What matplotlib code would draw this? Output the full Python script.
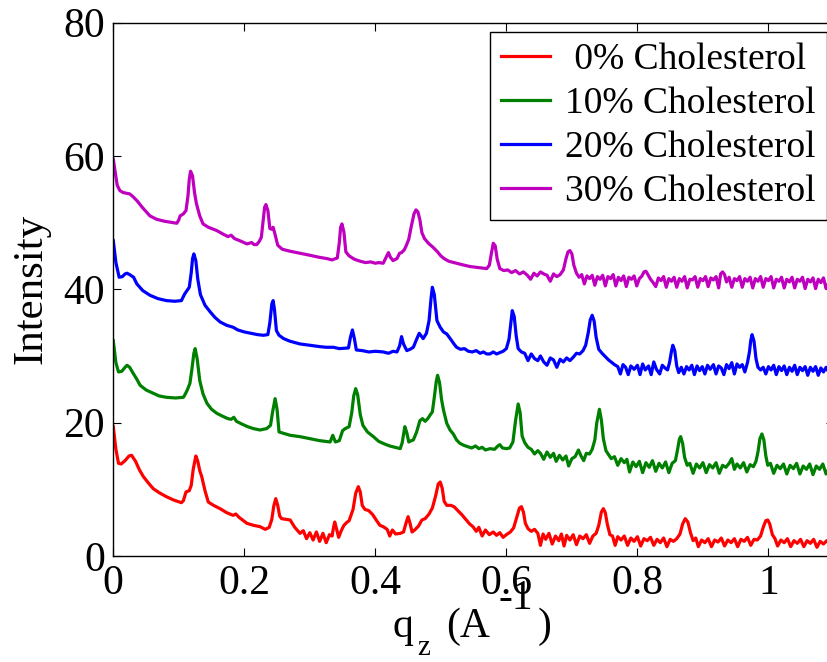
import matplotlib
matplotlib.use("Agg")
import matplotlib.pyplot as plt

plt.rcParams['font.family'] = ['Liberation Serif', 'DejaVu Serif']
plt.rcParams['mathtext.fontset'] = 'custom'
plt.rcParams['mathtext.rm'] = 'Liberation Serif'
plt.rcParams['mathtext.it'] = 'Liberation Serif:italic'

labels = [' 0% Cholesterol', '10% Cholesterol', '20% Cholesterol', '30% Cholesterol']
colors = ['#ff0000', '#008000', '#0000ff', '#bf00bf']

q_0 = [0.000, 0.004, 0.008, 0.012, 0.018, 0.024, 0.028, 0.034, 0.040, 0.046, 0.054, 0.061, 0.070, 0.081, 0.092, 0.104,
       0.107, 0.111, 0.116, 0.119, 0.122, 0.126, 0.129, 0.132, 0.135, 0.140, 0.145, 0.153, 0.163, 0.173, 0.183, 0.187,
       0.192, 0.204, 0.214, 0.224, 0.232, 0.238, 0.242, 0.245, 0.248, 0.251, 0.254, 0.257, 0.263, 0.270, 0.277, 0.285,
       0.290, 0.295, 0.300, 0.305, 0.310, 0.315, 0.320, 0.325, 0.330, 0.334, 0.336, 0.338, 0.341, 0.344, 0.348, 0.352,
       0.356, 0.360, 0.366, 0.370, 0.374, 0.377, 0.380, 0.384, 0.390, 0.396, 0.402, 0.407, 0.412, 0.418, 0.422, 0.426,
       0.431, 0.438, 0.443, 0.447, 0.450, 0.453, 0.456, 0.460, 0.466, 0.471, 0.476, 0.482, 0.487, 0.492, 0.496, 0.499,
       0.502, 0.505, 0.509, 0.515, 0.520, 0.526, 0.532, 0.538, 0.544, 0.549, 0.554, 0.558, 0.563, 0.568, 0.574, 0.580,
       0.585, 0.590, 0.595, 0.600, 0.606, 0.611, 0.616, 0.620, 0.623, 0.626, 0.629, 0.633, 0.638, 0.643, 0.648, 0.652,
       0.656, 0.660, 0.665, 0.670, 0.675, 0.680, 0.684, 0.688, 0.692, 0.697, 0.702, 0.707, 0.712, 0.717, 0.722, 0.727,
       0.732, 0.737, 0.741, 0.745, 0.748, 0.751, 0.754, 0.758, 0.762, 0.766, 0.770, 0.775, 0.780, 0.785, 0.790, 0.795,
       0.800, 0.805, 0.810, 0.815, 0.820, 0.825, 0.830, 0.835, 0.840, 0.845, 0.850, 0.855, 0.860, 0.865, 0.869, 0.873,
       0.877, 0.881, 0.885, 0.889, 0.893, 0.898, 0.903, 0.908, 0.913, 0.918, 0.923, 0.928, 0.933, 0.938, 0.943, 0.948,
       0.953, 0.958, 0.963, 0.968, 0.973, 0.978, 0.983, 0.988, 0.992, 0.996, 0.999, 1.002, 1.006, 1.010, 1.014, 1.019,
       1.024, 1.029, 1.034, 1.039, 1.044, 1.049, 1.054, 1.059, 1.064, 1.069, 1.074, 1.079, 1.084, 1.089, 1.095, 1.100]
i_0 = [19.4, 16.0, 13.9, 13.8, 14.3, 15.0, 15.1, 14.2, 12.9, 11.9, 10.9, 10.1, 9.5, 8.9, 8.4, 8.0,
       8.3, 9.6, 9.8, 10.6, 13.0, 15.0, 14.2, 12.8, 11.9, 9.8, 8.1, 7.6, 7.1, 6.5, 6.1, 6.3,
       5.8, 4.9, 4.6, 4.4, 4.0, 4.3, 5.5, 7.5, 8.6, 7.6, 6.0, 5.6, 5.5, 5.4, 4.3, 3.4,
       3.8, 2.6, 3.5, 2.4, 3.6, 2.2, 3.4, 2.0, 3.2, 3.0, 4.2, 5.1, 4.0, 2.8, 3.8, 4.6,
       5.0, 5.3, 7.0, 9.4, 10.4, 9.6, 7.6, 7.0, 6.8, 6.2, 5.3, 4.6, 4.4, 4.0, 3.0, 3.9,
       3.3, 3.4, 3.6, 5.0, 5.9, 4.9, 3.6, 3.9, 4.5, 5.4, 5.6, 6.3, 7.2, 9.0, 10.8, 11.1,
       10.2, 8.2, 7.6, 7.6, 7.4, 6.8, 6.2, 5.5, 4.8, 4.4, 3.7, 4.3, 3.0, 3.9, 3.2, 3.6,
       3.1, 3.5, 2.8, 3.2, 3.6, 4.2, 5.9, 7.2, 7.4, 6.6, 4.9, 4.1, 3.7, 4.0, 3.4, 1.6,
       3.3, 2.5, 3.4, 1.8, 3.0, 2.3, 3.3, 1.5, 3.1, 2.4, 3.2, 1.7, 3.0, 2.6, 3.2, 1.9,
       3.0, 3.4, 4.6, 6.6, 7.1, 6.5, 4.8, 3.2, 3.0, 1.6, 2.9, 2.4, 3.0, 1.6, 2.7, 2.2,
       2.9, 1.5, 2.6, 2.3, 2.8, 1.6, 2.5, 2.0, 2.7, 1.4, 2.5, 2.2, 2.6, 3.3, 4.8, 5.6,
       5.1, 3.5, 2.3, 2.7, 1.4, 2.4, 2.0, 2.6, 1.4, 2.4, 2.1, 2.7, 1.5, 2.4, 2.0, 2.6,
       1.4, 2.5, 2.2, 2.8, 1.6, 2.5, 2.4, 3.0, 4.3, 5.3, 5.4, 4.8, 3.2, 2.6, 1.5, 2.4,
       2.0, 2.6, 1.4, 2.3, 1.9, 2.5, 1.4, 2.3, 1.9, 2.5, 1.3, 2.2, 1.8, 2.3, 1.6, 2.1]

q_10 = [0.000, 0.004, 0.008, 0.013, 0.018, 0.021, 0.025, 0.031, 0.036, 0.041, 0.050, 0.061, 0.070, 0.081, 0.095, 0.107,
        0.110, 0.113, 0.117, 0.120, 0.123, 0.125, 0.128, 0.132, 0.137, 0.143, 0.150, 0.158, 0.166, 0.175, 0.180, 0.184,
        0.188, 0.196, 0.205, 0.214, 0.224, 0.234, 0.240, 0.243, 0.247, 0.250, 0.253, 0.260, 0.270, 0.285, 0.300, 0.315,
        0.331, 0.335, 0.339, 0.345, 0.350, 0.354, 0.360, 0.364, 0.367, 0.370, 0.373, 0.377, 0.381, 0.388, 0.397, 0.405,
        0.414, 0.422, 0.430, 0.438, 0.441, 0.445, 0.448, 0.451, 0.455, 0.458, 0.463, 0.468, 0.472, 0.476, 0.480, 0.484,
        0.487, 0.490, 0.493, 0.495, 0.498, 0.501, 0.504, 0.509, 0.514, 0.519, 0.524, 0.529, 0.535, 0.541, 0.547, 0.553,
        0.558, 0.563, 0.568, 0.575, 0.582, 0.587, 0.590, 0.594, 0.600, 0.605, 0.610, 0.614, 0.618, 0.621, 0.624, 0.628,
        0.633, 0.638, 0.643, 0.648, 0.652, 0.657, 0.662, 0.667, 0.672, 0.676, 0.681, 0.686, 0.691, 0.695, 0.700, 0.705,
        0.710, 0.714, 0.718, 0.722, 0.727, 0.731, 0.735, 0.738, 0.742, 0.745, 0.748, 0.752, 0.756, 0.760, 0.765, 0.770,
        0.775, 0.780, 0.784, 0.788, 0.793, 0.798, 0.803, 0.808, 0.813, 0.818, 0.823, 0.828, 0.833, 0.838, 0.843, 0.848,
        0.853, 0.858, 0.861, 0.864, 0.866, 0.869, 0.872, 0.876, 0.880, 0.885, 0.890, 0.895, 0.900, 0.905, 0.910, 0.915,
        0.920, 0.925, 0.930, 0.935, 0.940, 0.944, 0.948, 0.952, 0.957, 0.962, 0.967, 0.972, 0.977, 0.981, 0.984, 0.987,
        0.990, 0.993, 0.996, 0.999, 1.003, 1.008, 1.013, 1.018, 1.023, 1.028, 1.033, 1.038, 1.043, 1.048, 1.053, 1.058,
        1.063, 1.068, 1.073, 1.078, 1.083, 1.088, 1.094, 1.100]
i_10 = [32.3, 29.0, 27.6, 27.7, 28.3, 28.6, 28.3, 27.3, 26.5, 25.6, 24.9, 24.4, 24.0, 23.8, 23.7, 23.8,
        24.3, 24.9, 25.9, 28.0, 30.4, 31.1, 29.6, 26.3, 24.3, 22.9, 22.0, 21.4, 21.0, 20.6, 20.5, 20.8,
        20.2, 19.8, 19.4, 19.1, 18.9, 19.1, 19.6, 21.5, 23.6, 22.0, 18.6, 18.4, 18.1, 17.9, 17.6, 17.3,
        17.1, 18.1, 17.1, 17.3, 18.8, 19.1, 19.4, 21.5, 24.0, 25.1, 24.2, 21.2, 19.6, 18.6, 17.9, 17.2,
        16.8, 16.5, 16.3, 16.1, 17.0, 19.4, 18.5, 17.1, 17.3, 17.4, 18.6, 20.3, 20.6, 20.2, 20.6, 21.2,
        21.6, 23.8, 26.2, 27.1, 26.0, 23.5, 21.9, 19.9, 18.9, 18.3, 17.4, 16.9, 16.6, 16.4, 16.2, 16.5,
        16.1, 16.3, 15.9, 16.1, 16.0, 16.5, 16.7, 16.2, 16.1, 16.2, 17.1, 20.3, 22.8, 21.5, 18.0, 17.0,
        16.3, 16.0, 15.3, 15.8, 15.4, 14.5, 15.6, 14.8, 15.4, 14.2, 15.1, 14.4, 15.0, 13.5, 14.6, 14.9,
        15.9, 15.0, 14.3, 15.4, 15.3, 16.0, 17.4, 20.0, 22.0, 20.4, 17.6, 15.8, 15.2, 14.6, 14.9, 13.6,
        14.6, 14.0, 14.5, 12.6, 14.1, 13.4, 14.2, 12.5, 14.0, 13.3, 14.3, 12.7, 13.9, 13.2, 14.1, 12.5,
        13.9, 14.3, 15.8, 17.5, 17.9, 16.9, 14.8, 13.6, 13.9, 12.4, 13.8, 13.2, 14.0, 12.5, 13.7, 13.2,
        14.0, 12.4, 13.6, 13.3, 13.9, 14.6, 13.0, 13.8, 13.2, 14.0, 12.6, 13.7, 13.4, 14.2, 15.6, 17.6,
        18.3, 17.4, 15.0, 13.6, 13.9, 12.4, 13.6, 13.1, 13.8, 12.3, 13.6, 13.1, 13.9, 12.3, 13.5, 13.0,
        13.8, 12.2, 13.5, 13.0, 13.8, 12.3, 13.4, 13.1]

q_20 = [0.000, 0.004, 0.009, 0.014, 0.018, 0.021, 0.025, 0.031, 0.036, 0.045, 0.056, 0.068, 0.081, 0.094, 0.104, 0.109,
        0.116, 0.119, 0.121, 0.123, 0.126, 0.129, 0.133, 0.140, 0.148, 0.155, 0.163, 0.173, 0.183, 0.190, 0.200, 0.210,
        0.220, 0.229, 0.236, 0.239, 0.242, 0.244, 0.246, 0.249, 0.253, 0.260, 0.270, 0.285, 0.300, 0.315, 0.325, 0.336,
        0.345, 0.359, 0.362, 0.365, 0.368, 0.371, 0.380, 0.390, 0.400, 0.412, 0.420, 0.427, 0.433, 0.437, 0.440, 0.443,
        0.448, 0.453, 0.458, 0.463, 0.467, 0.470, 0.473, 0.478, 0.482, 0.485, 0.487, 0.490, 0.494, 0.499, 0.504, 0.509,
        0.515, 0.520, 0.524, 0.530, 0.536, 0.542, 0.548, 0.554, 0.560, 0.565, 0.570, 0.575, 0.580, 0.585, 0.590, 0.595,
        0.600, 0.604, 0.607, 0.609, 0.612, 0.615, 0.618, 0.623, 0.628, 0.633, 0.638, 0.643, 0.648, 0.652, 0.657, 0.662,
        0.667, 0.672, 0.677, 0.682, 0.687, 0.692, 0.697, 0.702, 0.707, 0.712, 0.717, 0.721, 0.725, 0.728, 0.731, 0.734,
        0.737, 0.741, 0.746, 0.751, 0.756, 0.761, 0.765, 0.770, 0.774, 0.778, 0.782, 0.786, 0.790, 0.795, 0.800, 0.804,
        0.808, 0.812, 0.817, 0.821, 0.825, 0.829, 0.834, 0.838, 0.842, 0.846, 0.849, 0.852, 0.854, 0.857, 0.860, 0.863,
        0.867, 0.871, 0.875, 0.879, 0.883, 0.887, 0.891, 0.895, 0.899, 0.903, 0.907, 0.911, 0.916, 0.920, 0.924, 0.928,
        0.932, 0.936, 0.940, 0.944, 0.948, 0.952, 0.956, 0.960, 0.964, 0.968, 0.971, 0.973, 0.975, 0.978, 0.981, 0.984,
        0.988, 0.992, 0.996, 1.000, 1.004, 1.008, 1.012, 1.016, 1.020, 1.024, 1.028, 1.032, 1.036, 1.040, 1.044, 1.048,
        1.052, 1.056, 1.060, 1.064, 1.068, 1.072, 1.076, 1.080, 1.084, 1.088, 1.094, 1.100]
i_20 = [47.3, 44.0, 41.8, 41.9, 42.3, 42.4, 42.2, 41.8, 40.8, 39.8, 39.1, 38.6, 38.3, 38.2, 38.3, 39.3,
        40.3, 42.5, 44.6, 45.3, 44.3, 41.5, 39.2, 37.6, 36.6, 35.8, 35.1, 34.6, 34.3, 33.9, 33.6, 33.4,
        33.2, 33.1, 33.2, 35.0, 37.8, 38.3, 37.0, 33.8, 33.1, 32.6, 32.2, 31.8, 31.6, 31.4, 31.3, 31.3,
        31.1, 31.2, 32.8, 33.9, 32.6, 30.9, 30.8, 30.6, 30.7, 30.6, 30.4, 30.7, 30.6, 31.5, 32.9, 31.8,
        30.8, 31.0, 31.3, 32.5, 33.4, 33.0, 32.6, 33.4, 35.3, 38.6, 40.3, 39.2, 35.3, 34.3, 33.6, 33.3,
        32.5, 31.8, 31.3, 31.0, 31.1, 30.7, 30.6, 30.8, 30.4, 30.6, 30.3, 30.3, 30.6, 30.3, 30.5, 30.7,
        31.1, 32.5, 35.0, 36.8, 35.9, 33.0, 31.1, 30.6, 30.4, 29.3, 30.3, 29.6, 29.3, 30.0, 29.1, 28.6,
        29.7, 29.4, 28.3, 29.5, 29.1, 29.7, 29.3, 29.8, 30.4, 30.3, 30.8, 31.6, 33.5, 35.4, 36.1, 35.2,
        32.8, 31.0, 30.4, 29.9, 29.4, 29.0, 28.7, 28.4, 27.3, 28.7, 28.3, 27.2, 28.5, 28.0, 28.6, 27.2,
        28.8, 27.9, 28.5, 27.2, 29.1, 28.0, 27.3, 28.6, 28.2, 27.9, 29.0, 30.7, 31.6, 30.8, 28.5, 27.5,
        28.3, 27.3, 28.4, 27.9, 28.6, 27.2, 28.5, 27.8, 28.4, 27.3, 28.6, 28.0, 28.7, 27.3, 28.5, 28.2,
        27.2, 28.7, 28.1, 29.0, 27.3, 28.8, 28.3, 28.7, 27.6, 29.0, 30.6, 32.3, 33.2, 32.2, 29.6, 28.3,
        27.9, 28.3, 27.3, 28.4, 27.9, 28.6, 27.2, 28.4, 27.8, 28.5, 27.2, 28.3, 27.7, 28.6, 27.2, 28.3,
        27.8, 28.4, 27.1, 28.3, 27.7, 28.4, 27.1, 28.2, 27.6, 28.3, 27.2, 27.8]

q_30 = [0.000, 0.003, 0.006, 0.010, 0.015, 0.020, 0.025, 0.030, 0.036, 0.045, 0.056, 0.066, 0.078, 0.090, 0.097, 0.100,
        0.102, 0.107, 0.111, 0.114, 0.116, 0.118, 0.121, 0.124, 0.127, 0.132, 0.137, 0.145, 0.158, 0.167, 0.175, 0.180,
        0.185, 0.195, 0.204, 0.211, 0.215, 0.219, 0.223, 0.226, 0.229, 0.231, 0.233, 0.236, 0.239, 0.242, 0.244, 0.247,
        0.251, 0.258, 0.270, 0.285, 0.300, 0.314, 0.326, 0.334, 0.342, 0.345, 0.347, 0.349, 0.352, 0.355, 0.360, 0.368,
        0.377, 0.385, 0.393, 0.400, 0.405, 0.412, 0.416, 0.420, 0.423, 0.427, 0.433, 0.437, 0.440, 0.444, 0.447, 0.451,
        0.455, 0.459, 0.462, 0.465, 0.468, 0.471, 0.475, 0.481, 0.488, 0.495, 0.500, 0.505, 0.512, 0.520, 0.528, 0.536,
        0.545, 0.553, 0.561, 0.570, 0.574, 0.577, 0.580, 0.583, 0.586, 0.590, 0.596, 0.602, 0.608, 0.614, 0.620, 0.626,
        0.632, 0.637, 0.642, 0.647, 0.652, 0.657, 0.662, 0.667, 0.672, 0.677, 0.682, 0.687, 0.691, 0.694, 0.697, 0.700,
        0.703, 0.707, 0.711, 0.715, 0.719, 0.723, 0.727, 0.731, 0.735, 0.739, 0.743, 0.747, 0.751, 0.755, 0.759, 0.763,
        0.767, 0.771, 0.775, 0.779, 0.783, 0.787, 0.791, 0.795, 0.799, 0.803, 0.807, 0.810, 0.813, 0.816, 0.820, 0.824,
        0.828, 0.832, 0.836, 0.840, 0.844, 0.848, 0.852, 0.856, 0.860, 0.864, 0.868, 0.872, 0.876, 0.880, 0.884, 0.888,
        0.892, 0.896, 0.900, 0.904, 0.908, 0.912, 0.916, 0.920, 0.924, 0.927, 0.930, 0.933, 0.936, 0.940, 0.944, 0.948,
        0.952, 0.956, 0.960, 0.964, 0.968, 0.972, 0.976, 0.980, 0.984, 0.988, 0.992, 0.996, 1.000, 1.004, 1.008, 1.012,
        1.016, 1.020, 1.024, 1.028, 1.032, 1.036, 1.040, 1.044, 1.048, 1.052, 1.056, 1.060, 1.064, 1.068, 1.072, 1.076,
        1.080, 1.084, 1.088, 1.094, 1.100]
i_30 = [59.5, 57.5, 55.6, 54.8, 54.5, 54.4, 54.3, 53.9, 53.3, 52.2, 51.0, 50.5, 50.2, 50.0, 49.9, 50.4,
        51.0, 51.3, 51.8, 54.0, 56.5, 57.7, 57.0, 54.5, 52.8, 51.0, 49.8, 49.3, 48.8, 48.3, 47.9, 48.1,
        47.6, 47.2, 46.8, 47.0, 46.7, 46.7, 47.2, 47.8, 50.5, 52.3, 52.7, 51.8, 49.1, 49.0, 49.3, 48.2,
        46.6, 46.0, 45.7, 45.4, 45.1, 44.8, 44.6, 44.4, 44.7, 47.0, 49.3, 49.8, 48.6, 45.6, 45.0, 44.5,
        44.2, 44.0, 44.1, 43.9, 44.0, 43.9, 44.7, 45.5, 44.8, 44.3, 44.6, 45.4, 45.5, 45.9, 46.5, 47.5,
        49.5, 51.3, 51.9, 51.6, 50.4, 48.5, 47.6, 46.9, 46.3, 45.6, 45.0, 44.6, 44.2, 44.0, 43.8, 43.6,
        43.4, 43.3, 43.2, 43.1, 43.6, 45.3, 46.9, 46.5, 44.5, 43.1, 42.8, 42.9, 42.5, 42.8, 42.3, 42.6,
        42.1, 41.5, 42.4, 42.0, 42.6, 42.3, 42.1, 41.2, 42.3, 41.9, 42.2, 42.9, 44.6, 45.6, 45.8, 45.3,
        43.6, 42.4, 41.8, 42.2, 40.8, 42.0, 41.6, 42.1, 40.6, 41.9, 41.5, 42.1, 40.5, 41.9, 41.6, 42.2,
        40.5, 41.8, 41.3, 42.0, 40.4, 41.8, 41.5, 42.0, 40.5, 41.6, 42.0, 42.6, 42.7, 42.2, 41.5, 41.0,
        40.4, 41.7, 41.3, 41.9, 40.3, 41.6, 41.2, 41.8, 40.3, 41.6, 41.2, 41.9, 40.2, 41.5, 41.4, 41.9,
        40.3, 41.6, 41.3, 41.9, 40.4, 41.7, 41.4, 41.9, 40.2, 42.3, 42.6, 42.2, 41.1, 41.8, 40.3, 41.6,
        41.3, 41.9, 40.3, 41.6, 41.2, 41.8, 40.2, 41.6, 41.2, 41.9, 40.3, 41.6, 41.3, 41.9, 40.2, 41.5,
        41.2, 41.8, 40.2, 41.5, 41.1, 41.8, 40.2, 41.5, 41.2, 41.8, 40.1, 41.5, 41.1, 41.7, 40.1, 41.5,
        41.0, 41.7, 40.1, 41.4, 41.0]

x_ticks = [0, 0.2, 0.4, 0.6, 0.8, 1.0]
x_ticklabels = ['0', '0.2', '0.4', '0.6', '0.8', '1']
y_ticks = [0, 20, 40, 60, 80]

W, H = 828, 662
fig = plt.figure(figsize=(W / 100, H / 100), dpi=100)
ax = fig.add_axes([0.1368, 0.1601, 0.8704, 0.8059])

for qs, ys, lab, col in zip([q_0, q_10, q_20, q_30], [i_0, i_10, i_20, i_30], labels, colors):
    ax.plot(qs, ys, color=col, lw=2.3, label=lab)

ax.set_xlim(0, 1.1)
ax.set_ylim(0, 80)
ax.set_xticks(x_ticks)
ax.set_xticklabels(x_ticklabels)
ax.set_yticks(y_ticks)
ax.tick_params(direction='in', length=6, width=0.8, labelsize=30, top=True, right=True, pad=6)
for s in ax.spines.values():
    s.set_linewidth(1.0)

ax.set_ylabel('Intensity', fontsize=31, labelpad=9)

# x-axis label, laid out piece by piece like the original export
def ftext(px, py, s, size):
    fig.text(px / W, 1 - py / H, s, fontsize=size, ha='left', va='baseline')

ftext(393, 637, 'q', 30)
ftext(417, 655, 'z', 21)
ftext(446, 637, '(A', 30)
ftext(499, 609, '-1', 30)
ftext(538, 637, ')', 30)

leg = ax.legend(loc='upper right', bbox_to_anchor=(827 / W, (H - 31.7) / H),
                bbox_transform=fig.transFigure, borderaxespad=0, fontsize=27,
                handlelength=1.3, handletextpad=0.4, labelspacing=0.25, borderpad=0.3,
                fancybox=False, framealpha=1, edgecolor='black')
leg.get_frame().set_linewidth(1.0)

fig.savefig('out.png', dpi=100)
